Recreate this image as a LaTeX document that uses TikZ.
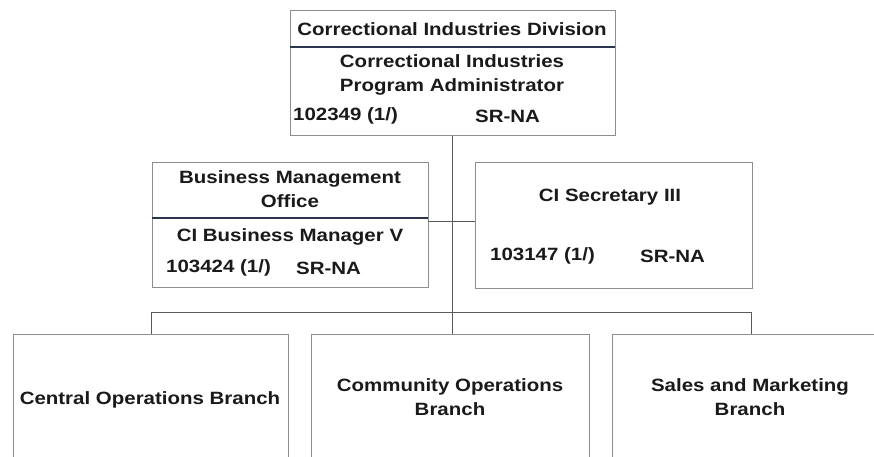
\documentclass[tikz,border=0pt]{standalone}
\usepackage{fontspec}
\setmainfont{Liberation Sans}[FakeStretch=1.15]
\definecolor{boxgray}{HTML}{8E8E8E}
\definecolor{linegray}{HTML}{5A5A5A}
\definecolor{divline}{HTML}{2B3550}
\definecolor{txt}{HTML}{1A1A1A}
\begin{document}
\begin{tikzpicture}[x=1pt,y=-1pt,
  box/.style={draw=boxgray, line width=0.9pt, rectangle, inner sep=0pt, fill=white},
  lbl/.style={inner sep=0pt, text=txt, font=\fontsize{17.8}{24}\selectfont\bfseries, align=center},
  conn/.style={draw=linegray, line width=0.8pt},
  divider/.style={draw=divline, line width=1.1pt}]
\useasboundingbox (0,0) rectangle (874,457);
\clip (0,0) rectangle (874,457);
\fill[white] (0,0) rectangle (874,457);

% connectors
\coordinate (bus) at (452,312);
\coordinate (mid) at (452,221);
\coordinate (top) at (452,135);
\draw[conn] (top) -- (bus);
\draw[conn] (151,312) -- (751,312);

% top box
\node[box, minimum width=325pt, minimum height=125pt] (pa) at (452.5,72.5) {};
\draw[divider] (290,47) -- (615,47);
\node[lbl] (div) at (452,29) {Correctional Industries Division};
\node[lbl] (patitle) at (452,74.5) {Correctional Industries\\Program Administrator};
\node[lbl, anchor=west] (panum) at (293,116) {102349 (1/)};
\node[lbl, anchor=west] (pagrade) at (475,116) {SR-NA};

% business management box
\node[box, minimum width=276pt, minimum height=125pt] (bm) at (290,224.5) {};
\draw[divider] (152,218) -- (428,218);
\node[lbl] (bmo) at (290,189) {Business Management\\Office};
\node[lbl] (bmtitle) at (290,237) {CI Business Manager V};
\node[lbl, anchor=west] (bmnum) at (166,268) {103424 (1/)};
\node[lbl, anchor=west] (bmgrade) at (296,268) {SR-NA};

% secretary box
\node[box, minimum width=277pt, minimum height=126pt] (sec) at (613.5,225) {};
\node[lbl] (sectitle) at (610,197) {CI Secretary III};
\node[lbl, anchor=west] (secnum) at (490,256) {103147 (1/)};
\node[lbl, anchor=west] (secgrade) at (640,256) {SR-NA};

\draw[conn] (bm.east |- mid) -- (sec.west |- mid);

% branches
\node[box, minimum width=275pt, minimum height=140pt] (cob) at (151,404) {};
\node[box, minimum width=278pt, minimum height=140pt] (cmb) at (450,404) {};
\node[box, minimum width=278pt, minimum height=140pt] (smb) at (751,404) {};
\node[lbl] (cobt) at (150,400) {Central Operations Branch};
\node[lbl] (cmbt) at (450,397) {Community Operations\\Branch};
\node[lbl] (smbt) at (750,397) {Sales and Marketing\\Branch};

\draw[conn] (151,312) -- (cob.north);
\draw[conn] (bus) -- (bus |- cmb.north);
\draw[conn] (751,312) -- (smb.north);
\end{tikzpicture}
\end{document}
